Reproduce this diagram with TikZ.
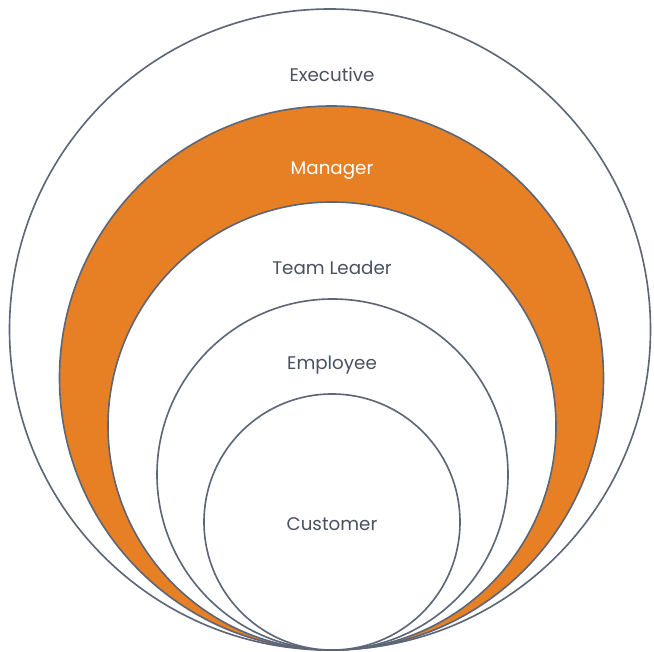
\documentclass[tikz,border=0pt]{standalone}
\usepackage{fontspec}
\setmainfont{Poppins}
\usetikzlibrary{positioning}
\definecolor{ringline}{HTML}{5D6676}
\definecolor{mgrorange}{HTML}{E77F25}
\definecolor{lbltext}{HTML}{4A5161}

\begin{document}
\begin{tikzpicture}[x=0.5mm,y=-0.5mm,
    ring/.style={draw=ringline, line width=2.3pt},
    lbl/.style={text=lbltext, font=\fontsize{26}{30}\selectfont}]
        \useasboundingbox (0,0) rectangle (654,652);
        % all rings touch at the bottom
        \coordinate (T) at (332,650);
        \draw[ring, fill=white] (330,329.5) circle (320.5);
        \draw[ring, fill=mgrorange] (331.5,378) circle (272);
        \draw[ring, fill=white] (332,426) circle (224);
        \draw[ring, fill=white] (332.5,474.5) circle (175.5);
        \draw[ring, fill=white] (332,522) circle (128);
        \node[lbl] (exec) at (332,75) {Executive};
        \node[lbl, text=white] (mgr) at (332,171) {Manager};
        \node[lbl] (lead) at (332,268) {Team Leader};
        \node[lbl] (empl) at (332,365) {Employee};
        \node[lbl] (cust) at (332,524) {Customer};
    \end{tikzpicture}
\end{document}
